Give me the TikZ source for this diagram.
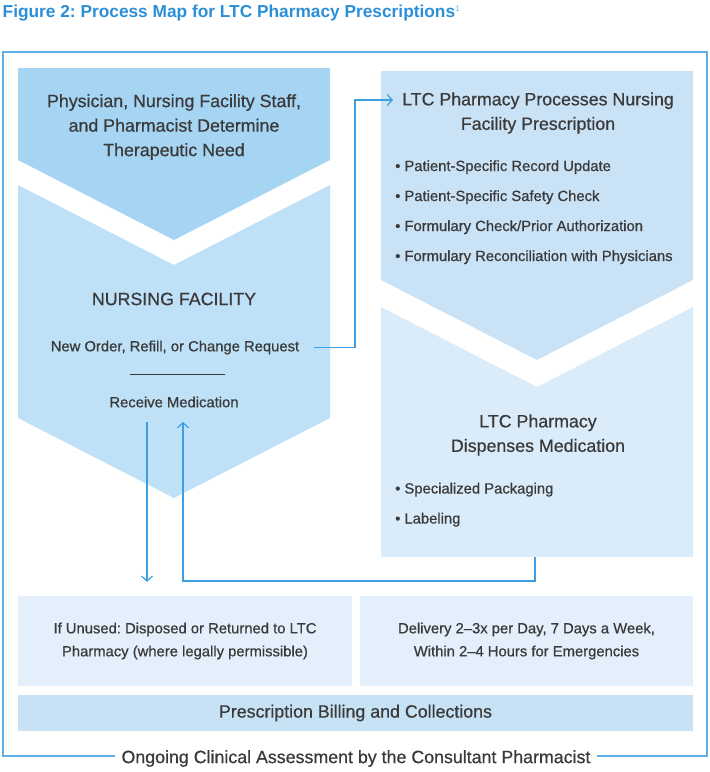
\documentclass[tikz,border=0pt]{standalone}
\usepackage{fontspec}
\setmainfont{Liberation Sans}
\newfontfamily\medfont{Liberation Sans}[FakeBold=0.6, Ligatures=TeX]
\usepackage{xcolor}
\usetikzlibrary{positioning, arrows.meta, calc}
\frenchspacing

\definecolor{figblue}{HTML}{2B8FD8}
\definecolor{linkblue}{HTML}{3E9FE0}
\definecolor{framecol}{HTML}{5DB0E8}
\definecolor{textgray}{HTML}{3A3A3A}
\definecolor{chevA}{HTML}{A6D4F3}
\definecolor{chevB}{HTML}{BEE1F7}
\definecolor{chevC}{HTML}{C9E2F5}
\definecolor{chevD}{HTML}{DAEBF9}
\definecolor{boxpale}{HTML}{E3F0FB}
\definecolor{boxbill}{HTML}{C8E2F5}

\begin{document}
\begin{tikzpicture}[x=1pt, y=-1pt, every node/.style={text=textgray}]
  \tikzset{
    frame/.style={draw=framecol, line width=1.3pt},
    flow/.style={draw=linkblue, line width=1.2pt, -{Straight Barb[length=5pt, width=11pt]}},
    divider/.style={draw=textgray, line width=0.8pt},
    heading/.style={font=\medfont\fontsize{17.8}{24.5}\selectfont, align=center},
    body/.style={font=\medfont\fontsize{14.8}{23}\selectfont, align=center},
    bulleted/.style={font=\medfont\fontsize{14.8}{18}\selectfont, anchor=base west, inner sep=0pt},
    infobox/.style={body, fill=boxpale, minimum height=90pt, inner sep=0pt},
  }
  \useasboundingbox (0,0) rectangle (710,772);

  %% ===== Title and outer frame =====
  \node[anchor=base west, inner sep=0pt, text=figblue, font=\bfseries\fontsize{17.3}{20}\selectfont] (title) at (2.5,17)
    {Figure 2: Process Map for LTC Pharmacy Prescriptions\raisebox{6pt}{\mdseries\fontsize{8}{8}\selectfont\color{figblue!70} 1}};
  \draw[frame] (3,52) rectangle (707,756);

  %% ===== Left column: therapeutic need + nursing facility =====
  \fill[chevA] (18,68) -- (330,68) -- (330,160) -- (174,240) -- (18,160) -- cycle;
  \fill[chevB] (18,185) -- (174,265) -- (330,185) -- (330,418) -- (174,498) -- (18,418) -- cycle;
  \node[heading] (need) at (174,127) {Physician, Nursing Facility Staff,\\and Pharmacist Determine\\Therapeutic Need};
  \node[heading] (nf) at (174,299) {NURSING FACILITY};
  \node[body] (order) at (175,347.5) {New Order, Refill, or Change Request};
  \draw[divider] (130,374) -- (225,374);
  \node[body] (receive) at (174,402) {Receive Medication};

  %% ===== Right column: pharmacy processes + dispenses =====
  \fill[chevC] (381,71) -- (693,71) -- (693,280) -- (537,360) -- (381,280) -- cycle;
  \fill[chevD] (381,307) -- (537,387) -- (693,307) -- (693,557) -- (381,557) -- cycle;
  \node[heading] (proc) at (538,113) {LTC Pharmacy Processes Nursing\\Facility Prescription};
  \node[bulleted] (procA) at (395,171) {\textbullet\ Patient-Specific Record Update};
  \node[bulleted] (procB) at (395,201) {\textbullet\ Patient-Specific Safety Check};
  \node[bulleted] (procC) at (395,231) {\textbullet\ Formulary Check/Prior Authorization};
  \node[bulleted] (procD) at (395,261) {\textbullet\ Formulary Reconciliation with Physicians};
  \node[heading] (disp) at (538,435) {LTC Pharmacy\\Dispenses Medication};
  \node[bulleted] (pack) at (395,493.5) {\textbullet\ Specialized Packaging};
  \node[bulleted] (label) at (395,523.5) {\textbullet\ Labeling};

  %% ===== Bottom boxes =====
  \node[infobox, minimum width=334pt] (unused) at (185,641) {If Unused: Disposed or Returned to LTC\\Pharmacy (where legally permissible)};
  \node[infobox, minimum width=333pt] (delivery) at (526.5,641) {Delivery 2--3x per Day, 7 Days a Week,\\Within 2--4 Hours for Emergencies};
  \node[heading, fill=boxbill, minimum width=675pt, minimum height=36pt, inner sep=0pt] (billing) at (355.5,713) {Prescription Billing and Collections};
  \node[heading, fill=white, inner xsep=7pt] (ongoing) at (356,758.5) {Ongoing Clinical Assessment by the Consultant Pharmacist};

  %% ===== Connectors =====
  \coordinate (procin) at (393,100);
  \coordinate (dispout) at (535,557);
  \draw[flow] ([xshift=11pt]order.east) -| ([xshift=-38pt]procin) -- (procin);
  \draw[flow] ([xshift=-27pt, yshift=-11pt]receive.south) coordinate (rdown) -- ([yshift=14pt]rdown |- unused.north);
  \draw[flow] (dispout) -- ++(0,24) -| ([xshift=9pt, yshift=-11pt]receive.south);
\end{tikzpicture}
\end{document}
